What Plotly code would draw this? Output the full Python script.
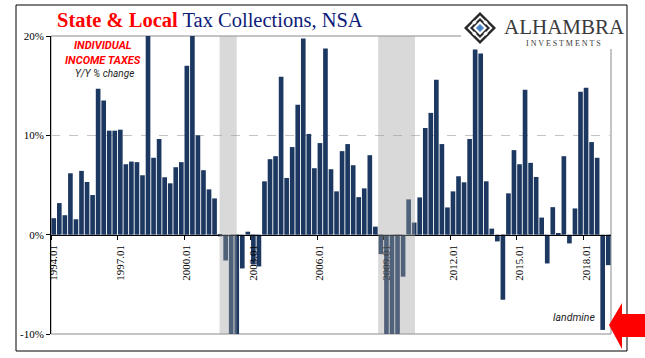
import plotly.graph_objects as go

# ---------------- data ----------------
quarters = [f"{y}.{m:02d}" for y in range(1994, 2020) for m in (1, 4, 7, 10)][:101]
yoy_pct = [
    1.66, 3.18, 1.96, 6.18, 1.55, 6.42, 5.30, 3.99, 14.7, 13.5,
    10.47, 10.47, 10.57, 7.09, 7.36, 7.30, 5.98, 21.0, 7.74, 9.63,
    5.78, 5.17, 6.79, 7.30, 17.0, 21.5, 10.0, 6.49, 4.56, 3.65,
    -0.17, -2.6, -11.0, -10.8, -3.4, 0.30, -3.0, -3.2, 5.37, 7.6,
    7.9, 15.9, 5.71, 8.82, 13.07, 19.76, 10.14, 6.69, 9.22, 18.75,
    6.59, 4.36, 8.41, 9.12, 6.99, 3.78, 4.66, 8.0, 0.81, -1.96,
    -12.0, -11.5, -11.0, -4.23, 3.55, 1.22, 3.75, 10.74, 12.26, 15.6,
    9.12, 2.74, 4.36, 5.88, 5.27, 9.63, 18.65, 18.24, 5.37, 0.61,
    -0.68, -6.55, 4.16, 8.51, 7.09, 14.59, 7.23, 5.81, 1.72, -2.9,
    2.77, 0.14, 7.9, -0.88, 2.64, 14.39, 14.8, 9.32, 7.74, -9.59,
    -3.07,
]
tick_quarters = ["1994.01", "1997.01", "2000.01", "2003.01", "2006.01",
                 "2009.01", "2012.01", "2015.01", "2018.01"]
y_ticks = [-10, 0, 10, 20]
y_ticktext = ["-10%", "0%", "10%", "20%"]
# recession shading (start, end) in quarter positions
recession_start = [29.9, 58.5]
recession_end = [33.0, 65.15]

NAVY = "#1c3861"
W, H = 645, 358
L, R, T, B = 51, 34, 36, 24
PW, PH = W - L - R, H - T - B


def px(x):
    return (x - L) / PW


def py(y):
    return (H - B - y) / PH


idx = list(range(len(yoy_pct)))
tickpos = [quarters.index(q) for q in tick_quarters]

fig = go.Figure()
fig.add_trace(go.Bar(x=idx, y=yoy_pct, marker_color=NAVY,
                     marker_line_width=0, width=0.84, hoverinfo="skip"))

shapes = []
# plot border
shapes.append(dict(type="rect", xref="paper", yref="paper", x0=0, x1=1, y0=0, y1=1,
                   line=dict(color="#8a8a8a", width=1), layer="below"))
# recession overlays
for s, e in zip(recession_start, recession_end):
    shapes.append(dict(type="rect", xref="x", yref="paper", x0=s, x1=e, y0=0, y1=1,
                       fillcolor="rgb(160,160,160)", opacity=0.4, line=dict(width=0),
                       layer="above"))
# logo white box
shapes.append(dict(type="rect", xref="paper", yref="paper", x0=px(461), x1=px(621),
                   y0=py(49), y1=py(6), fillcolor="white", line=dict(width=0),
                   layer="above"))


def diamond(cx, cy, r, color):
    path = (f"M {px(cx)},{py(cy - r)} L {px(cx + r)},{py(cy)} "
            f"L {px(cx)},{py(cy + r)} L {px(cx - r)},{py(cy)} Z")
    return dict(type="path", xref="paper", yref="paper", path=path,
                fillcolor=color, line=dict(width=0), layer="above")


cx, cy = 480, 28
shapes.append(diamond(cx, cy, 16, "#2a2a2a"))
shapes.append(diamond(cx, cy, 12.5, "white"))
shapes.append(diamond(cx, cy, 10, "#2a2a2a"))
shapes.append(diamond(cx, cy, 7, "white"))
shapes.append(diamond(cx, cy, 4, "#4a86c8"))
for dx, dy in [(-8, -8), (8, -8), (-8, 8), (8, 8)]:
    shapes.append(diamond(cx + dx * 0.7, cy + dy * 0.7, 2.2, "white"))

# outer frame
shapes.append(dict(type="rect", xref="paper", yref="paper", x0=px(16), x1=px(627),
                   y0=py(351), y1=py(5), line=dict(color="black", width=1),
                   layer="above"))
# red arrow
arrow = (f"M {px(609)},{py(325)} L {px(622)},{py(303)} L {px(622)},{py(314)} "
         f"L {px(645)},{py(314)} L {px(645)},{py(337)} L {px(622)},{py(337)} "
         f"L {px(622)},{py(349)} Z")
shapes.append(dict(type="path", xref="paper", yref="paper", path=arrow,
                   fillcolor="#ff0000", line=dict(width=0), layer="above"))


def note(x, y, text, font):
    return dict(xref="paper", yref="paper", x=px(x), y=py(y), showarrow=False,
                xanchor="center", yanchor="middle", text=text, font=font)


ann = [
    note(210, 20, "<b><span style='color:#ff0000'>State &amp; Local</span></b> "
                  "<span style='color:#0c1a78'>Tax Collections, NSA</span>",
         dict(family="Liberation Serif", size=20.5)),
    note(103, 45, "<b><i>INDIVIDUAL</i></b>",
         dict(family="Roboto", size=11, color="#ff0000")),
    note(103, 60, "<b><i>INCOME TAXES</i></b>",
         dict(family="Roboto", size=11, color="#ff0000")),
    note(104, 73.5, "<i>Y/Y % change</i>",
         dict(family="Roboto", size=10, color="#222222")),
    note(574, 317, "<i>landmine</i>",
         dict(family="Roboto", size=10.5, color="#222222")),
    note(564, 27, "ALHAMBRA",
         dict(family="Liberation Serif", size=21, color="#3a3a3a")),
    note(563, 44, "I N V E S T M E N T S",
         dict(family="Liberation Serif", size=8, color="#3a3a3a")),
]

fig.update_layout(
    width=W, height=H,
    margin=dict(l=L, r=R, t=T, b=B, autoexpand=False),
    paper_bgcolor="white", plot_bgcolor="white",
    showlegend=False,
    shapes=shapes, annotations=ann,
    xaxis=dict(range=[-0.5, len(yoy_pct) - 0.5], anchor="free", position=1 / 3,
               showline=True, linecolor="black", linewidth=1,
               tickvals=tickpos, ticktext=tick_quarters, tickangle=-90,
               ticks="", ticklabelstandoff=5,
               minor=dict(ticks="outside", ticklen=4, tickcolor="black",
                          tick0=-0.5, dtick=12, showgrid=False),
               tickfont=dict(family="Liberation Serif", size=11, color="black"),
               showgrid=False, zeroline=False, automargin=False),
    yaxis=dict(range=[-10, 20], tickvals=y_ticks, ticktext=y_ticktext,
               showline=True, linecolor="black", linewidth=1,
               ticks="outside", ticklen=4, tickcolor="black",
               tickfont=dict(family="Liberation Serif", size=11, color="black"),
               showgrid=True, gridcolor="#c4c4c4", griddash="dash", gridwidth=1,
               zeroline=False, automargin=False),
)

fig.write_html("out.html", config={"displayModeBar": False},
               post_script="document.body.style.margin='0px';"
                           "document.body.style.overflow='hidden';")
